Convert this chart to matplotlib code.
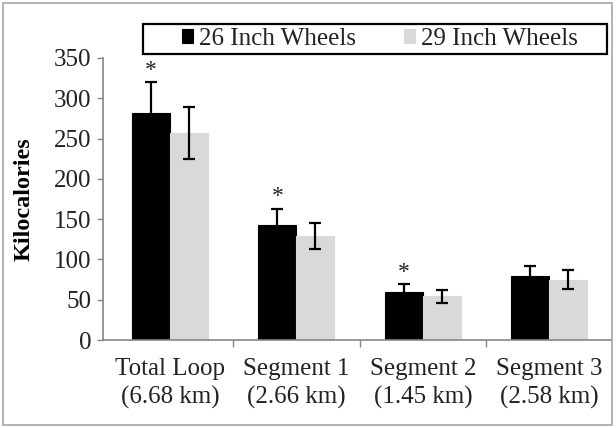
import matplotlib
matplotlib.use("Agg")
import matplotlib.pyplot as plt
import numpy as np
from matplotlib.patches import Rectangle

categories = ["Total Loop\n(6.68 km)", "Segment 1\n(2.66 km)", "Segment 2\n(1.45 km)", "Segment 3\n(2.58 km)"]
series_names = ["26 Inch Wheels", "29 Inch Wheels"]
vals_26 = [282, 143, 59, 80]
err_26 = [38, 20, 10, 12]
vals_29 = [257, 129, 54, 75]
err_29 = [32, 16, 8, 12]
significant = [True, True, True, False]
yticks = [0, 50, 100, 150, 200, 250, 300, 350]

plt.rcParams['font.family'] = ['Liberation Serif', 'DejaVu Serif']

fig = plt.figure(figsize=(6.16, 4.28), dpi=100)
ax = fig.add_axes([0.1672, 0.2056, 0.8271, 0.6589])

x = np.arange(len(categories))
w = 0.30
ekw = dict(ecolor='black', elinewidth=1.6, capsize=4.5, capthick=1.6)
b1 = ax.bar(x - w/2, vals_26, w, color='black', edgecolor='black', linewidth=0.8,
            yerr=err_26, error_kw=ekw, label=series_names[0], zorder=2)
b2 = ax.bar(x + w/2, vals_29, w, color='#d9d9d9', edgecolor='#d9d9d9', linewidth=0.8,
            yerr=err_29, error_kw=ekw, label=series_names[1], zorder=2)

for xi, v, e, s in zip(x, vals_26, err_26, significant):
    if s:
        ax.annotate('*', xy=(xi - w/2, v + e), xytext=(0, 1), textcoords='offset points',
                    ha='center', va='bottom', fontsize=17, color='#222222')

ax.set_xlim(-0.53, 3.5)
ax.set_ylim(0, 350)
ax.set_yticks(yticks)
ax.set_xticks(x)
ax.set_xticklabels(categories, fontsize=18, color='#222222', linespacing=1.32)
ax.tick_params(axis='x', length=0, pad=13)
ax.set_xticks([0.5, 1.5, 2.5], minor=True)
ax.tick_params(axis='x', which='minor', length=5, width=1, color='#868686', direction='out')
ax.tick_params(axis='y', labelsize=18, labelcolor='#222222', length=4.5, width=1, color='#868686', pad=4)
for s in ['top', 'right']:
    ax.spines[s].set_visible(False)
for s in ['left', 'bottom']:
    ax.spines[s].set_color('#868686')
    ax.spines[s].set_linewidth(1.2)

ax.set_ylabel('Kilocalories', fontsize=17.5, fontweight='bold')
ax.yaxis.set_label_coords(-0.135, 0.5)

leg = fig.legend(handles=[b1, b2], labels=series_names, loc='center', ncol=2,
                 bbox_to_anchor=(380/616, 1 - 39/428), fontsize=18, frameon=False,
                 handlelength=0.45, handleheight=0.45, handletextpad=0.25, columnspacing=1.9,
                 borderpad=0.0)
for t in leg.get_texts():
    t.set_color('#222222')

fig.patches.append(Rectangle((143/616, 1 - 54/428), 464/616, 30/428, transform=fig.transFigure,
                             fill=False, edgecolor='black', linewidth=1.6))
fig.patches.append(Rectangle((3/616, 3/428), 609/616, 422/428, transform=fig.transFigure,
                             fill=False, edgecolor='#a6a6a6', linewidth=1.2))

fig.savefig('out.png', dpi=100)
